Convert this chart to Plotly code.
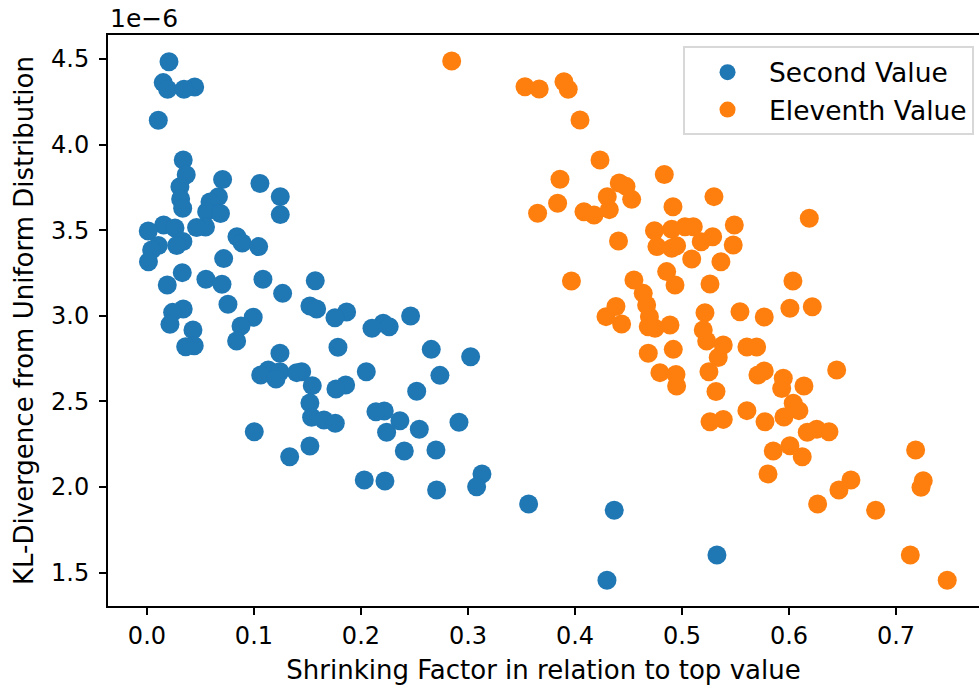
import plotly.graph_objects as go

# Shrinking factor (x) and KL-divergence in units of 1e-6 (y)
second_x = [0.0206, 0.0152, 0.0446, 0.0193, 0.0346, 0.0106, 0.0339, 0.0367, 0.0707, 0.1056,
            0.0308, 0.1246, 0.0668, 0.0315, 0.0589, 0.0334, 0.0558, 0.0687, 0.1246, 0.0156,
            0.0547, 0.0464, 0.0262, 0.0012, 0.0841, 0.0336, 0.0890, 0.0278, 0.0106, 0.1044,
            0.0044, 0.0717, 0.0014, 0.0330, 0.0551, 0.1084, 0.1573, 0.0701, 0.0190, 0.1268,
            0.0757, 0.1523, 0.1586, 0.0339, 0.1866, 0.0240, 0.2464, 0.0993, 0.1757, 0.2208,
            0.0215, 0.0879, 0.2264, 0.2103, 0.0430, 0.0838, 0.0442, 0.0362, 0.1785, 0.2657,
            0.1243, 0.3025, 0.1134, 0.1243, 0.1446, 0.2050, 0.1399, 0.1063, 0.2738, 0.1206,
            0.1857, 0.1545, 0.1766, 0.2521, 0.1523, 0.2218, 0.2140, 0.1539, 0.1654, 0.2364,
            0.2916, 0.1760, 0.2545, 0.1003, 0.2240, 0.1523, 0.2701, 0.2405, 0.1334, 0.3131,
            0.2031, 0.2224, 0.3081, 0.2707, 0.3567, 0.4367, 0.5327, 0.4299]
second_y = [4.484, 4.362, 4.336, 4.323, 4.323, 4.142, 3.910, 3.824, 3.796, 3.773,
            3.754, 3.696, 3.696, 3.682, 3.665, 3.628, 3.608, 3.598, 3.591, 3.530,
            3.519, 3.516, 3.513, 3.495, 3.462, 3.434, 3.425, 3.411, 3.411, 3.404,
            3.384, 3.334, 3.316, 3.252, 3.213, 3.213, 3.205, 3.184, 3.180, 3.131,
            3.067, 3.057, 3.040, 3.040, 3.022, 3.020, 2.999, 2.991, 2.989, 2.956,
            2.950, 2.940, 2.936, 2.927, 2.917, 2.853, 2.825, 2.819, 2.816, 2.804,
            2.781, 2.761, 2.683, 2.673, 2.673, 2.673, 2.668, 2.654, 2.652, 2.631,
            2.596, 2.592, 2.572, 2.559, 2.491, 2.444, 2.440, 2.407, 2.391, 2.387,
            2.378, 2.372, 2.337, 2.323, 2.320, 2.239, 2.216, 2.210, 2.177, 2.076,
            2.041, 2.035, 2.002, 1.983, 1.901, 1.864, 1.603, 1.455]

eleventh_x = [0.2848, 0.3897, 0.3533, 0.3666, 0.3937, 0.4047, 0.4234, 0.4835, 0.3860, 0.4414,
              0.4477, 0.5299, 0.4302, 0.4530, 0.3838, 0.4916, 0.4321, 0.4084, 0.3651, 0.4178,
              0.6190, 0.5489, 0.5028, 0.5106, 0.4904, 0.4743, 0.5287, 0.4407, 0.5180, 0.5479,
              0.4950, 0.4766, 0.4904, 0.5091, 0.5364, 0.4857, 0.4551, 0.3967, 0.6037, 0.5262,
              0.4935, 0.4638, 0.4670, 0.4383, 0.6218, 0.6009, 0.5542, 0.5215, 0.4290, 0.4696,
              0.5769, 0.4436, 0.4888, 0.4685, 0.4748, 0.5199, 0.5231, 0.5386, 0.5607, 0.5698,
              0.4919, 0.4685, 0.5339, 0.6446, 0.5769, 0.5252, 0.4794, 0.4944, 0.5710, 0.5947,
              0.4950, 0.6140, 0.5932, 0.5318, 0.6040, 0.5607, 0.6093, 0.5953, 0.5386, 0.5262,
              0.5776, 0.6259, 0.6374, 0.6171, 0.6009, 0.7184, 0.5853, 0.6124, 0.5804, 0.6579,
              0.7255, 0.7234, 0.6467, 0.6268, 0.6810, 0.7134, 0.7479]
eleventh_y = [4.488, 4.367, 4.338, 4.325, 4.323, 4.144, 3.910, 3.825, 3.797, 3.776,
              3.756, 3.696, 3.696, 3.680, 3.657, 3.637, 3.620, 3.608, 3.599, 3.589,
              3.570, 3.530, 3.520, 3.520, 3.505, 3.497, 3.462, 3.437, 3.433, 3.414,
              3.409, 3.404, 3.394, 3.332, 3.316, 3.258, 3.209, 3.203, 3.203, 3.186,
              3.180, 3.131, 3.063, 3.054, 3.053, 3.044, 3.024, 3.018, 2.995, 2.995,
              2.993, 2.952, 2.946, 2.936, 2.927, 2.917, 2.853, 2.829, 2.818, 2.818,
              2.804, 2.781, 2.756, 2.683, 2.678, 2.673, 2.668, 2.657, 2.654, 2.635,
              2.590, 2.590, 2.575, 2.558, 2.489, 2.446, 2.446, 2.409, 2.395, 2.381,
              2.381, 2.337, 2.323, 2.320, 2.241, 2.216, 2.210, 2.177, 2.076, 2.041,
              2.037, 1.998, 1.983, 1.901, 1.864, 1.603, 1.455]

series_names = ["Second Value", "Eleventh Value"]
series_colors = ["#1f77b4", "#ff7f0e"]
x_ticks = [0.0, 0.1, 0.2, 0.3, 0.4, 0.5, 0.6, 0.7]
y_ticks = [1.5, 2.0, 2.5, 3.0, 3.5, 4.0, 4.5]

FONT = "DejaVu Sans"
TICK_FS = 24
TITLE_FS = 26
LEGEND_FS = 26.5

fig = go.Figure()
for name, color, xs, ys in [(series_names[0], series_colors[0], second_x, second_y),
                            (series_names[1], series_colors[1], eleventh_x, eleventh_y)]:
    fig.add_trace(go.Scatter(
        x=xs, y=ys, mode="markers", name=name,
        marker=dict(color=color, size=19, line=dict(width=0)),
    ))

fig.update_layout(
    width=979, height=688,
    margin=dict(l=108, r=0, t=35, b=82),
    paper_bgcolor="white", plot_bgcolor="white",
    font=dict(family=FONT, size=TICK_FS, color="black"),
    showlegend=True,
    legend=dict(
        x=0.9943, y=0.98, xanchor="right", yanchor="top",
        bgcolor="rgba(255,255,255,0.8)", bordercolor="#d8d8d8", borderwidth=2,
        font=dict(family=FONT, size=LEGEND_FS), itemwidth=73, indentation=1,
        itemsizing="trace",
    ),
)

fig.update_xaxes(
    range=[-0.0364, 0.7776], tickvals=x_ticks, ticktext=[f"{v:.1f}" for v in x_ticks],
    showgrid=False, zeroline=False, showline=True, linecolor="black", linewidth=2,
    mirror=True, ticks="outside", ticklen=7, tickwidth=2, tickcolor="black",
    tickfont=dict(size=TICK_FS),
    title=dict(text="Shrinking Factor in relation to top value", standoff=12,
               font=dict(size=TITLE_FS)),
)
fig.update_yaxes(
    range=[1.305, 4.640], tickvals=y_ticks, ticktext=[f"{v:.1f}" for v in y_ticks],
    showgrid=False, zeroline=False, showline=True, linecolor="black", linewidth=2,
    ticks="outside", ticklen=7, tickwidth=2, tickcolor="black",
    tickfont=dict(size=TICK_FS), ticklabelstandoff=5,
    title=dict(text="KL-Divergence from Uniform Distribution", standoff=10,
               font=dict(size=TITLE_FS)),
)

fig.add_annotation(
    text="1e\u22126", xref="paper", yref="paper", x=0, y=1,
    xanchor="left", yanchor="bottom", showarrow=False, yshift=0,
    font=dict(family=FONT, size=25),
)

fig.write_html("out.html")
